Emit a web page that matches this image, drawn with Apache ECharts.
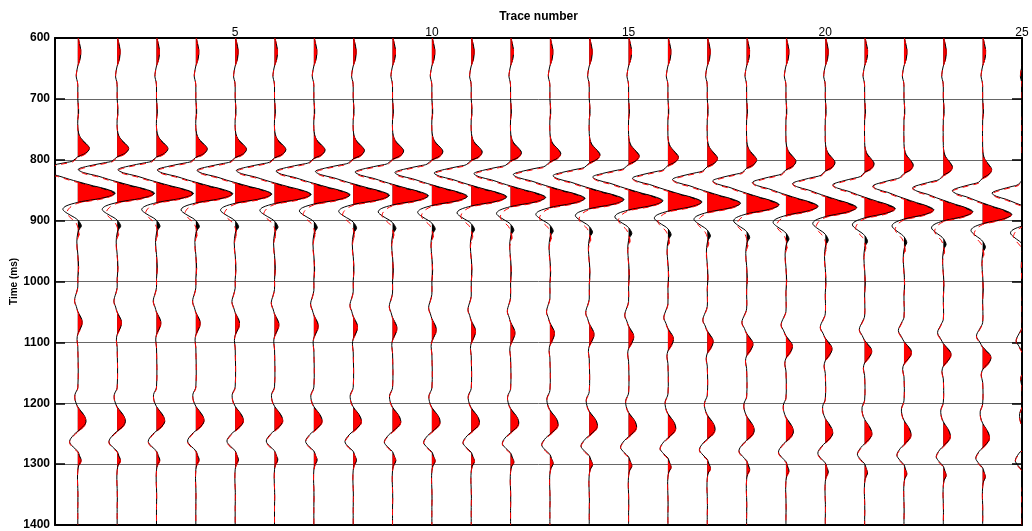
<!DOCTYPE html>
<html>
<head>
<meta charset="utf-8">
<script src="https://cdn.jsdelivr.net/npm/echarts@6/dist/echarts.min.js"></script>
<style>
html,body{margin:0;padding:0;background:#fff;}
#chart{width:1032px;height:531px;}
</style>
</head>
<body>
<div id="chart"></div>
<script>
// ---------------- DATA ----------------
const traceNumbers = [1,2,3,4,5,6,7,8,9,10,11,12,13,14,15,16,17,18,19,20,21,22,23,24,25];
const xTickLabels = [5,10,15,20,25];
const timeTicks = [600,700,800,900,1000,1100,1200,1300,1400];

// main reflection: time of the big positive peak (ms) and its relative gain, per trace
const mainPeakTime = [855,855.2,855.5,856,856.5,857,857.8,858.5,859.3,860.2,861,862,863.5,865.5,867.5,869.5,871.5,874,876.5,878.5,880.5,882.5,885.5,890,894];
const mainGain = [1.0,1.0,0.99,0.99,0.98,0.98,0.97,0.97,0.96,0.95,0.95,0.94,0.94,0.93,0.92,0.91,0.89,0.87,0.86,0.84,0.82,0.80,0.79,0.78,0.77];

// second event (~1070-1130 ms): peak time and peak amplitude (trace spacing units)
const eventATime = [1067,1068,1068,1068.5,1069,1071,1073,1075,1077,1079,1082,1084.5,1085.5,1087,1091,1095,1099,1103,1107,1111,1114.7,1116.5,1120,1125.5,1133];
const eventAAmp = [0.11,0.11,0.11,0.11,0.11,0.11,0.11,0.11,0.11,0.11,0.11,0.11,0.115,0.12,0.13,0.14,0.15,0.16,0.165,0.17,0.18,0.19,0.195,0.21,0.2];

// third event (~1230-1260 ms)
const eventBTime = [1230,1230,1229.5,1229,1229,1229,1229.5,1230,1230.5,1231,1231.5,1232.5,1235,1237,1239,1241,1243,1245,1247,1249,1250.5,1252,1254.5,1257,1261];
const eventBAmp = [0.21,0.21,0.21,0.21,0.21,0.21,0.21,0.21,0.21,0.21,0.21,0.21,0.21,0.21,0.205,0.2,0.2,0.195,0.19,0.19,0.185,0.18,0.18,0.175,0.17];

// shallow small wiggles, absolute time (ms) -> amplitude
const shallowWiggle = [[600,0.01],[608,0.04],[620,0.075],[634,0.06],[646,0],[656,-0.03],[664,-0.04],[672,-0.01],[680,0],[700,0],[712,0.015],[724,0.02],[734,0]];

// main wavelet, time relative to main peak -> amplitude (black trace)
const mainWaveBlack = [[-109,0],[-99,0.02],[-91,0.07],[-84,0.17],[-78,0.26],[-74,0.295],[-69,0.26],[-64,0.15],[-60,0],
  [-53,-0.13],[-50.5,-0.3],[-45,-0.72],[-39.5,-0.99],[-34,-0.85],[-29,-0.52],[-23,-0.22],[-19,0],
  [-12,0.40],[-6.5,0.74],[0,0.95],[7,0.69],[12.5,0.2],[15,0],
  [21,-0.30],[26.5,-0.38],[33,-0.27],[40,-0.08],[44,0],[49,0.06],[54,0.09],[59,0.04],[65,0],
  [80,-0.025],[100,0],[122,0.02],[140,0]];
// main wavelet (red trace)
const mainWaveRed = [[-109,0],[-99,0.02],[-91,0.07],[-84,0.17],[-78,0.26],[-74,0.29],[-69,0.25],[-64,0.15],[-60,0],
  [-53,-0.13],[-50.5,-0.3],[-45,-0.72],[-39.5,-0.98],[-34,-0.85],[-29,-0.52],[-23,-0.22],[-19,0],
  [-12,0.39],[-6.5,0.72],[0,0.93],[7,0.68],[12.5,0.2],[15,0],
  [22,-0.2],[31,-0.28],[38,-0.2],[46,-0.06],[54,0],[60,0.03],[66,0.04],[72,0],
  [85,-0.025],[102,0],[122,0.02],[140,0]];
// event A wavelet, relative time -> amplitude (peak = 1)
const eventAWave = [[-58,0],[-48,-0.35],[-36,-0.75],[-26,-0.35],[-18,0],[-11,0.5],[-5,0.9],[0,1.0],[6,0.85],[13,0.4],[19,0],[28,-0.18],[40,0]];
// event B wavelet
const eventBWave = [[-56,0],[-44,-0.35],[-34,-0.3],[-24,0],[-16,0.45],[-8,0.85],[0,1.0],[6,0.8],[12,0.35],[16,0],[22,-0.5],[33,-1.0],[42,-0.55],[49,0],[56,0.2],[64,0.4],[72,0.12],[80,0],[95,-0.04],[110,0],[125,0.02],[140,0]];

const redDelay = 1.4; // ms, red trace lags the black one slightly

// ---------------- BUILD ----------------
function buildKnots(i, which) {
  const shift = which === 'red' ? redDelay : 0;
  const out = [];
  shallowWiggle.forEach(([t, a]) => out.push([t, a]));
  const tm = mainPeakTime[i] + shift;
  (which === 'red' ? mainWaveRed : mainWaveBlack).forEach(([d, a]) => out.push([tm + d, a * mainGain[i]]));
  const ta = eventATime[i] + shift;
  eventAWave.forEach(([d, a]) => out.push([ta + d, a * eventAAmp[i]]));
  const tb = eventBTime[i] + shift;
  eventBWave.forEach(([d, a]) => out.push([tb + d, a * eventBAmp[i]]));
  if (out[out.length - 1][0] < 1400) out.push([1400, 0]);
  return out;
}

function positiveLobes(knots) {
  const lobes = [];
  let cur = null;
  for (let j = 0; j < knots.length; j++) {
    const [t, a] = knots[j];
    if (a > 0) {
      if (!cur) {
        let t0;
        if (j === 0) t0 = t;
        else {
          const [tp, ap] = knots[j - 1];
          t0 = ap === 0 ? tp : tp + (t - tp) * (-ap) / (a - ap);
        }
        cur = { t0: t0, pts: [] };
      }
      cur.pts.push([t, a]);
    } else if (cur) {
      const [tp, ap] = knots[j - 1];
      cur.t1 = a === 0 ? t : tp + (t - tp) * ap / (ap - a);
      lobes.push(cur);
      cur = null;
    }
  }
  if (cur) { cur.t1 = knots[knots.length - 1][0]; lobes.push(cur); }
  return lobes;
}

const SMOOTH = 0.35;
const BBOX = [[Infinity, Infinity], [-Infinity, -Infinity]];

function fillRenderer(which, color) {
  return function (params, api) {
    const k = api.value(0);
    const knots = buildKnots(k - 1, which);
    const lobes = positiveLobes(knots);
    const children = lobes.map(l => {
      const p0 = api.coord([k, l.t0]);
      const p1 = api.coord([k, l.t1]);
      const pts = [p0, p0.slice()];
      l.pts.forEach(([t, a]) => pts.push(api.coord([k + a, t])));
      pts.push(p1, p1.slice());
      return { type: 'polygon', shape: { points: pts, smooth: SMOOTH, smoothConstraint: BBOX },
               style: { fill: color, stroke: null } };
    });
    return { type: 'group', children: children };
  };
}

function lineRenderer(which, color, dash) {
  return function (params, api) {
    const k = api.value(0);
    const knots = buildKnots(k - 1, which);
    const pts = knots.map(([t, a]) => api.coord([k + a, t]));
    return { type: 'polyline', shape: { points: pts, smooth: SMOOTH },
             style: { stroke: color, lineWidth: 1, fill: null, lineDash: dash || null } };
  };
}

const seriesData = traceNumbers.map(n => [n, 1000]);
function customSeries(renderItem, z) {
  return { type: 'custom', renderItem: renderItem, data: seriesData, clip: true, silent: true,
           encode: { x: 0, y: 1 }, xAxisIndex: 0, yAxisIndex: 0, z: z, animation: false };
}

const FONT = 'Liberation Sans, Arial, Helvetica, sans-serif';
const chart = echarts.init(document.getElementById('chart'), null, { renderer: 'canvas' });
chart.setOption({
  animation: false,
  backgroundColor: '#fff',
  grid: { left: 55, right: 10, top: 38, bottom: 6, containLabel: false, outerBoundsMode: 'none' },
  xAxis: [
    { type: 'value', position: 'top', min: 0.42, max: 25,
      name: 'Trace number', nameLocation: 'middle', nameGap: 21, nameMoveOverlap: false,
      nameTextStyle: { fontFamily: FONT, fontWeight: 'bold', fontSize: 12, color: '#000', verticalAlign: 'middle' },
      axisLine: { show: true, onZero: false, lineStyle: { color: '#000', width: 2 } },
      axisTick: { show: false },
      axisLabel: { customValues: xTickLabels, showMaxLabel: true, showMinLabel: true, margin: 5,
                   verticalAlign: 'middle', fontFamily: FONT, fontSize: 12, color: '#000' },
      splitLine: { show: false } },
    { type: 'value', position: 'bottom', min: 0.42, max: 25,
      axisLine: { show: true, onZero: false, lineStyle: { color: '#000', width: 2 } },
      axisTick: { show: false }, axisLabel: { show: false }, splitLine: { show: false } }
  ],
  yAxis: [
    { type: 'value', inverse: true, min: 600, max: 1400, interval: 100, position: 'left',
      name: 'Time (ms)', nameLocation: 'middle', nameGap: 41, nameRotate: 90, nameMoveOverlap: false,
      nameTextStyle: { fontFamily: FONT, fontWeight: 'bold', fontSize: 10, color: '#000', verticalAlign: 'middle' },
      axisLine: { show: true, onZero: false, lineStyle: { color: '#000', width: 2 } },
      axisTick: { show: true, inside: true, length: 10, lineStyle: { color: '#000', width: 1.5 } },
      axisLabel: { margin: 5, fontFamily: FONT, fontWeight: 'bold', fontSize: 12, color: '#000',
                   formatter: v => String(v) },
      splitLine: { show: true, lineStyle: { color: '#666', width: 1 } } },
    { type: 'value', inverse: true, min: 600, max: 1400, interval: 100, position: 'right',
      axisLine: { show: true, onZero: false, lineStyle: { color: '#000', width: 2 } },
      axisTick: { show: true, inside: true, length: 10, lineStyle: { color: '#000', width: 1.5 } },
      axisLabel: { show: false }, splitLine: { show: false } }
  ],
  series: [
    customSeries(fillRenderer('black', '#000'), 1),
    customSeries(fillRenderer('red', '#ff0000'), 2),
    customSeries(lineRenderer('black', '#000'), 3),
    customSeries(lineRenderer('red', '#ff0000', [6, 5]), 4)
  ]
});
</script>
</body>
</html>
